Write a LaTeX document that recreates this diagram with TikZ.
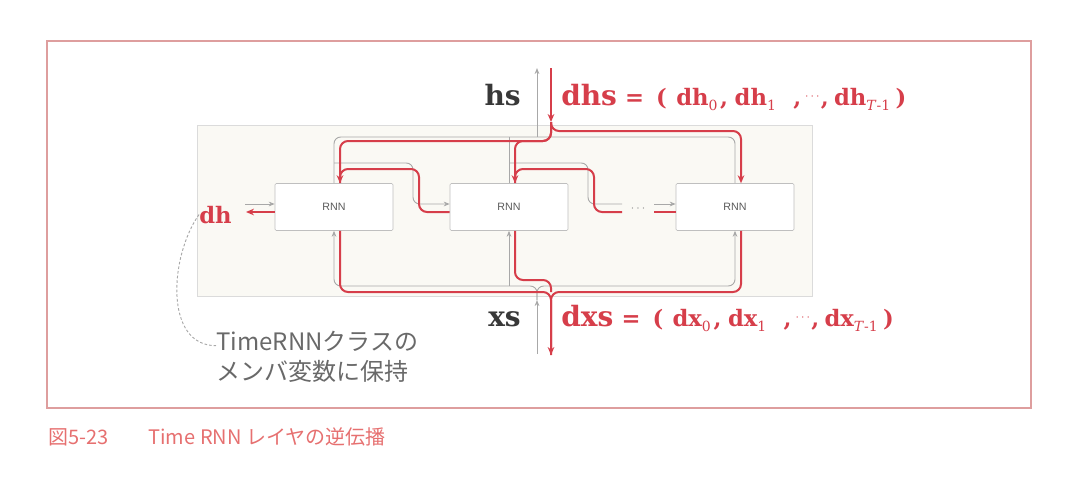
\documentclass[tikz,border=0pt]{standalone}
\usepackage{fontspec}
\setmainfont{DejaVu Serif}
\newfontfamily\jpfont{Noto Sans CJK JP}
\newfontfamily\boxfont{Liberation Sans}
\usetikzlibrary{arrows.meta}
\definecolor{gradred}{RGB}{214,62,74}
\definecolor{fwdgray}{RGB}{168,168,168}
\definecolor{framered}{RGB}{222,158,158}
\definecolor{capred}{RGB}{230,112,112}
\definecolor{panelfill}{RGB}{250,249,244}
\definecolor{memogray}{RGB}{105,105,105}
\newcommand\bigsz{\fontsize{21}{24}\selectfont\bfseries}
\newcommand\midsz{\fontsize{17}{19}\selectfont\bfseries}
\newcommand\subix[1]{\raisebox{-0.5ex}{\fontsize{10.5}{10.5}\selectfont\mdseries #1}}
\newcommand\gap[1]{\hspace{#1pt}}
\newcommand\smalldots{\raisebox{0.45ex}{\fontsize{9}{9}\selectfont\mdseries$\cdots$}}
\tikzset{
  rnnbox/.style={draw=black!25,fill=white,rounded corners=1pt,minimum width=88.5pt,minimum height=35.25pt,font=\boxfont\fontsize{8}{9}\selectfont,text=black!65},
  fwd/.style={fwdgray,line width=0.7pt,rounded corners=5pt},
  bwd/.style={gradred,line width=1.5pt,rounded corners=6pt},
  fwdtip/.style={-{Stealth[length=4.5pt,width=3.5pt]}},
  bwdtip/.style={-{Stealth[length=6pt,width=5pt]}},
}
\begin{document}
\begin{tikzpicture}[x=0.75pt,y=-0.75pt]
    \useasboundingbox (0,0) rectangle (1081,493);
    \draw[framered,line width=1pt] (47,41) rectangle (1031,408);
    \draw[black!14,fill=panelfill] (197,125) rectangle (812,296);
    \foreach \n/\x in {A/334,B/509,C/735} {
      \node[rnnbox] (rnn\n) at (\x,207) {RNN};
      \coordinate (top\n) at ([xshift=4.5pt]rnn\n.north);
      \coordinate (bot\n) at ([xshift=4.5pt]rnn\n.south);
    }
    \coordinate (gTop) at (0,137);
    \coordinate (rTopL) at (0,141);
    \coordinate (rTopR) at (0,131);
    \coordinate (gHi) at (0,163);
    \coordinate (rHi) at (0,169);
    \coordinate (gIn) at (0,204);
    \coordinate (rIn) at (0,212);
    \coordinate (rMid) at (0,280);
    \coordinate (gLo) at (0,286);
    \coordinate (jogAg) at (413,0);
    \coordinate (jogAr) at (419,0);
    \coordinate (jogBg) at (588,0);
    \coordinate (jogBr) at (594,0);
    \coordinate (dotsL) at (622,0);
    \coordinate (dotsR) at (654,0);
    \coordinate (hsTop) at (537,68);
    \coordinate (hsJ) at (537,137);
    \coordinate (dhsTop) at (551,68);
    \coordinate (dhsJ) at (551,122);
    \coordinate (xsBot) at (537,354);
    \coordinate (xsJ) at (537,300);
    \coordinate (dxsBot) at (551,355);
    \coordinate (dxsTurn) at (551,292);
    \coordinate (hPrev) at (245,204);
    \coordinate (dhEnd) at (246,212);

    \node[anchor=base east,inner sep=0pt,text=black!78,font=\bigsz] (hs) at (521,105) {hs};
    \node[anchor=base west,inner sep=0pt,text=gradred] (dhs) at (561,105) {{\bigsz dhs}\gap{3} {\midsz =\gap{9}(\gap{7}dh\subix{0}\gap{2},\gap{5}dh\subix{1}\gap{13},\gap{3}\smalldots\gap{1},\gap{4}dh\subix{\textit{T}-1}\gap{4})}};
    \node[anchor=base east,inner sep=0pt,text=black!78,font=\bigsz] (xs) at (521,326) {xs};
    \node[anchor=base west,inner sep=0pt,text=gradred] (dxs) at (561,326) {{\bigsz dxs}\gap{3} {\midsz =\gap{9}(\gap{7}dx\subix{0}\gap{2},\gap{5}dx\subix{1}\gap{13},\gap{3}\smalldots\gap{1},\gap{4}dx\subix{\textit{T}-1}\gap{4})}};
    \node[anchor=base west,inner sep=0pt,text=gradred,font=\fontsize{17}{20}\selectfont\bfseries] (dh) at (199,223) {dh};
    \node[font=\fontsize{9}{9}\selectfont,text=black!45,inner sep=0pt] (dots) at (638,209) {$\cdots$};
    \node[anchor=north west,inner sep=0pt,align=left,text=memogray,font=\jpfont\fontsize{18}{22.5}\selectfont] (memo) at (216,331) {TimeRNNクラスの\\メンバ変数に保持};
    \node[anchor=base west,inner sep=0pt,text=capred,font=\jpfont\fontsize{15}{18}\selectfont] (caption) at (48,444) {図5-23\hspace{2em}Time RNN レイヤの逆伝播};

    \draw[fwd,fwdtip] (hsJ) -- (hsTop);
    \draw[fwd] (rnnA.north) |- (hsJ) -| (rnnC.north);
    \draw[fwd] (rnnB.north) -- (rnnB.north |- gTop);
    \draw[fwd,fwdtip] (rnnA.north |- gHi) -| (jogAg |- gIn) -- (rnnB.west |- gIn);
    \draw[fwd] (rnnB.north |- gHi) -| (jogBg |- gIn) -- (dotsL |- gIn);
    \draw[fwd,fwdtip] (dotsR |- gIn) -- (rnnC.west |- gIn);
    \draw[fwd,fwdtip] (hPrev) -- (rnnA.west |- gIn);
    \draw[fwd,fwdtip] (xsBot) -- (xsJ);
    \draw[fwd,fwdtip] (xsJ) |- (rnnA.south |- gLo) -- (rnnA.south);
    \draw[fwd,fwdtip] (xsJ) |- (rnnC.south |- gLo) -- (rnnC.south);
    \draw[fwd,fwdtip] (rnnB.south |- gLo) -- (rnnB.south);

    \draw[bwd,bwdtip] (dhsTop) -- (dhsJ);
    \draw[bwd,bwdtip] (dhsJ) |- (topA |- rTopL) -- (topA);
    \draw[bwd,bwdtip] (dhsJ) |- (topB |- rTopL) -- (topB);
    \draw[bwd,bwdtip] (dhsJ) |- (topC |- rTopR) -- (topC);
    \draw[bwd] (rnnB.west |- rIn) -| (jogAr |- rHi) -- (topA |- rHi) -- (topA);
    \draw[bwd] (dotsL |- rIn) -| (jogBr |- rHi) -- (topB |- rHi) -- (topB);
    \draw[bwd] (rnnC.west |- rIn) -- (dotsR |- rIn);
    \draw[bwd,bwdtip] (rnnA.west |- rIn) -- (dhEnd);
    \draw[bwd,bwdtip] (botA) |- (dxsTurn) -- (dxsBot);
    \draw[bwd] (botC) |- (dxsTurn) -- (dxsBot);
    \draw[bwd] (botB) |- (dxsTurn |- rMid) -- (dxsTurn);

    \draw[fwdgray,line width=0.7pt,dash pattern=on 2pt off 1.5pt] (dh.west) to[out=235,in=180] ([yshift=-11pt]memo.north west);
  \end{tikzpicture}
\end{document}
